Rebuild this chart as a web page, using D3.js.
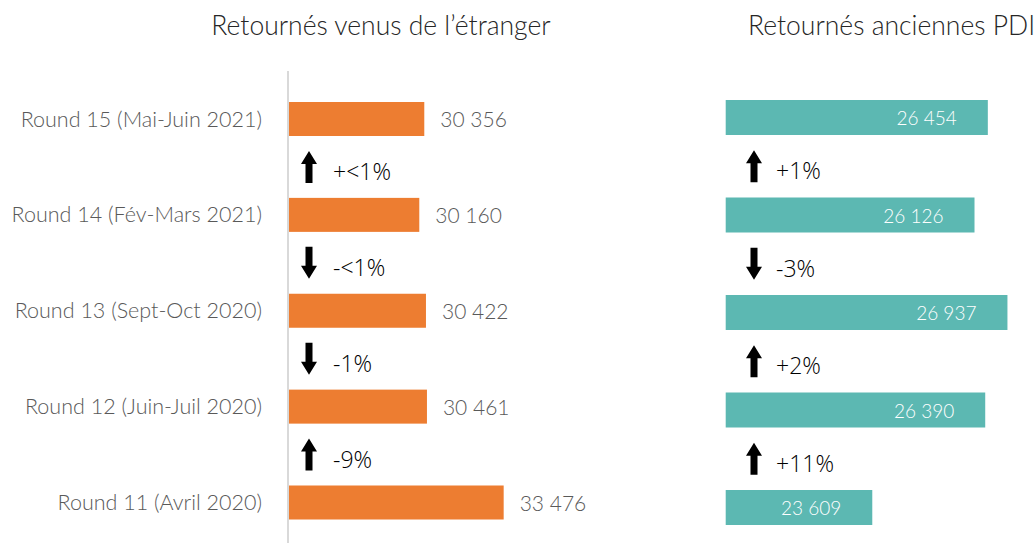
<!DOCTYPE html>
<html>
<head>
<meta charset="utf-8">
<script src="https://cdn.jsdelivr.net/npm/d3@7"></script>
<style>
  body { margin: 0; background: #fff; overflow: hidden; }
  svg { display: block; }
</style>
</head>
<body>
<div id="chart"></div>
<script>
// données
const rounds = [
    "Round 15 (Mai-Juin 2021)",
    "Round 14 (Fév-Mars 2021)",
    "Round 13 (Sept-Oct 2020)",
    "Round 12 (Juin-Juil 2020)",
    "Round 11 (Avril 2020)"
];
const etranger = [30356, 30160, 30422, 30461, 33476];
const anciensPDI = [26454, 26126, 26937, 26390, 23609];

// variations entre deux rounds (du haut vers le bas)
const etrangerVar = ["+<1%", "-<1%", "-1%", "-9%"];
const etrangerDir = ["up", "down", "down", "up"];
const pdiVar = ["+1%", "-3%", "+2%", "+11%"];
const pdiDir = ["up", "down", "up", "up"];

const titles = ["Retournés venus de l’étranger", "Retournés anciennes PDI"];

const W = 1034, H = 543;
const gillLike = "Lato, 'Open Sans', sans-serif";
const pctFont = "'Open Sans', 'Noto Sans', sans-serif";

const fr = d3.formatLocale({ decimal: ",", thousands: " ", grouping: [3], currency: ["", " €"] });
const fmt = fr.format(",d");

const svg = d3.select("#chart").append("svg")
    .attr("width", W)
    .attr("height", H);

// échelles
const yLeft = d3.scalePoint().domain(rounds).range([119, 502.5]);
const yRight = d3.scalePoint().domain(rounds).range([117.5, 507.5]);
const xLeft = d3.scaleLinear().domain([25000, 34000]).range([288, 517]);
const xRight = d3.scaleLinear().domain([20000, 27000]).range([725.7, 1010]);

const barHLeft = 34;
const barHRight = 35;

// flèche pleine (haut ou bas) centrée sur (0,0)
function arrowPath(dir) {
    const h = 16, head = 13, hw = 8, sw = 3.5;
    const s = dir === "up" ? 1 : -1;
    return d3.line()([
        [0, -h * s],
        [hw, (-h + head) * s],
        [sw, (-h + head) * s],
        [sw, h * s],
        [-sw, h * s],
        [-sw, (-h + head) * s],
        [-hw, (-h + head) * s]
    ]) + "Z";
}

// titres
svg.append("text")
    .attr("x", 381).attr("y", 35)
    .attr("text-anchor", "middle")
    .attr("font-family", gillLike).attr("font-weight", 300)
    .attr("font-size", 26.5).attr("fill", "#262626")
    .text(titles[0]);

svg.append("text")
    .attr("x", 748).attr("y", 35)
    .attr("font-family", gillLike).attr("font-weight", 300)
    .attr("font-size", 26.5).attr("fill", "#262626")
    .text(titles[1]);

// ===== panneau gauche =====
const left = svg.append("g");

// axe vertical gris
left.append("line")
    .attr("x1", xLeft.range()[0]).attr("x2", xLeft.range()[0])
    .attr("y1", 71).attr("y2", H)
    .attr("stroke", "#d9d9d9").attr("stroke-width", 2);

left.selectAll("rect.bar")
    .data(etranger)
    .join("rect")
    .attr("class", "bar")
    .attr("x", xLeft.range()[0] + 1)
    .attr("y", (d, i) => yLeft(rounds[i]) - barHLeft / 2)
    .attr("width", d => xLeft(d) - xLeft.range()[0] - 1)
    .attr("height", barHLeft)
    .attr("fill", "#ED7D31");

left.selectAll("text.cat")
    .data(rounds)
    .join("text")
    .attr("class", "cat")
    .attr("x", 262)
    .attr("y", d => yLeft(d))
    .attr("dy", "0.35em")
    .attr("text-anchor", "end")
    .attr("font-family", gillLike).attr("font-weight", 300)
    .attr("font-size", 21.5).attr("fill", "#595959")
    .text(d => d);

left.selectAll("text.val")
    .data(etranger)
    .join("text")
    .attr("class", "val")
    .attr("x", d => xLeft(d) + 16)
    .attr("y", (d, i) => yLeft(rounds[i]) + 1)
    .attr("dy", "0.35em")
    .attr("font-family", gillLike).attr("font-weight", 300)
    .attr("font-size", 21).attr("fill", "#595959")
    .text(d => fmt(d));

// flèches + variations
function drawChanges(g, y, labels, dirs, ax, tx) {
    const mids = labels.map((d, i) => (y(rounds[i]) + y(rounds[i + 1])) / 2);
    g.selectAll("path.arrow")
        .data(dirs)
        .join("path")
        .attr("class", "arrow")
        .attr("transform", (d, i) => `translate(${ax},${mids[i]})`)
        .attr("d", d => arrowPath(d))
        .attr("fill", "#000");
    g.selectAll("text.pct")
        .data(labels)
        .join("text")
        .attr("class", "pct")
        .attr("x", tx)
        .attr("y", (d, i) => mids[i] + 5)
        .attr("dy", "0.35em")
        .attr("font-family", pctFont).attr("font-weight", 300)
        .attr("font-size", 23).attr("fill", "#000")
        .text(d => d);
}

drawChanges(left, yLeft, etrangerVar, etrangerDir, 309, 333);

// ===== panneau droit =====
const right = svg.append("g");

right.selectAll("rect.bar")
    .data(anciensPDI)
    .join("rect")
    .attr("class", "bar")
    .attr("x", xRight.range()[0])
    .attr("y", (d, i) => yRight(rounds[i]) - barHRight / 2)
    .attr("width", d => xRight(d) - xRight.range()[0])
    .attr("height", barHRight)
    .attr("fill", "#5CB8B2");

right.selectAll("text.val")
    .data(anciensPDI)
    .join("text")
    .attr("class", "val")
    .attr("x", d => xRight(d) - 31)
    .attr("y", (d, i) => yRight(rounds[i]) + 1)
    .attr("dy", "0.35em")
    .attr("text-anchor", "end")
    .attr("font-family", gillLike).attr("font-weight", 300)
    .attr("font-size", 19).attr("fill", "#ffffff")
    .text(d => fmt(d));

drawChanges(right, yRight, pdiVar, pdiDir, 754, 776);
</script>
</body>
</html>
